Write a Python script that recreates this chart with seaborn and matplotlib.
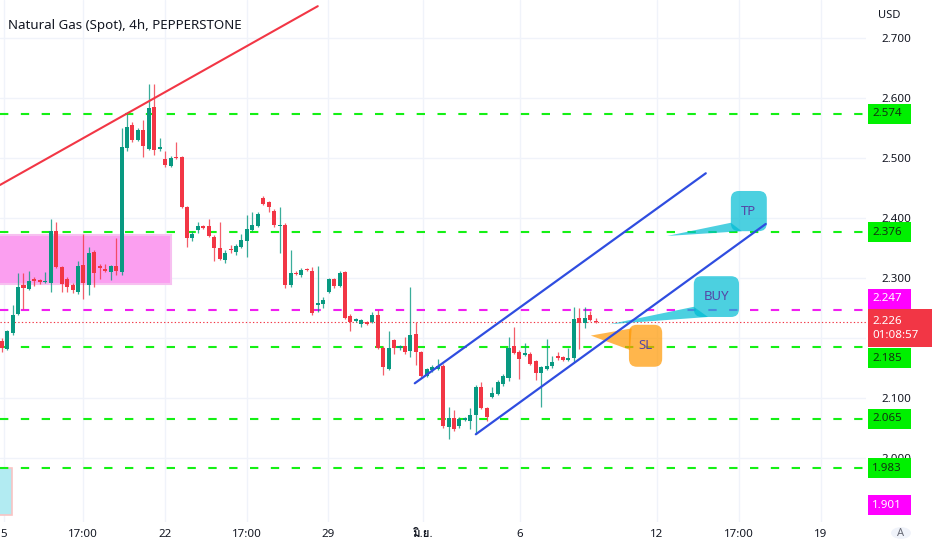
import matplotlib
matplotlib.use("Agg")
import matplotlib.pyplot as plt
import matplotlib.transforms as mtransforms
from matplotlib.patches import Rectangle, FancyBboxPatch, Polygon, Circle
import matplotlib.font_manager as fm
from matplotlib.ft2font import FT2Font
import numpy as np
import seaborn as sns

# ---------------- data ----------------
opens = [2.195, 2.182, 2.208, 2.240, 2.288, 2.282, 2.298, 2.296, 2.293, 2.292,
         2.378, 2.318, 2.298, 2.288, 2.277, 2.322, 2.288, 2.343, 2.320, 2.315,
         2.310, 2.320, 2.310, 2.516, 2.555, 2.530, 2.547, 2.515, 2.585, 2.515,
         2.498, 2.487, 2.502, 2.502, 2.418, 2.366, 2.380, 2.387, 2.386, 2.369,
         2.350, 2.330, 2.349, 2.343, 2.352, 2.362, 2.380, 2.387, 2.433, 2.426,
         2.412, 2.386, 2.389, 2.288, 2.309, 2.305, 2.315, 2.312, 2.255, 2.257,
         2.277, 2.298, 2.287, 2.310, 2.236, 2.228, 2.224, 2.227, 2.227, 2.239,
         2.184, 2.149, 2.196, 2.183, 2.186, 2.178, 2.207, 2.176, 2.137, 2.146,
         2.148, 2.153, 2.052, 2.067, 2.053, 2.063, 2.062, 2.072, 2.119, 2.083,
         2.102, 2.107, 2.123, 2.133, 2.187, 2.177, 2.172, 2.174, 2.161, 2.142,
         2.148, 2.153, 2.170, 2.168, 2.163, 2.166, 2.234, 2.225, 2.239, 2.228]
highs = [2.200, 2.213, 2.255, 2.308, 2.308, 2.312, 2.302, 2.298, 2.310, 2.398,
         2.393, 2.320, 2.302, 2.292, 2.328, 2.373, 2.352, 2.346, 2.323, 2.323,
         2.322, 2.367, 2.550, 2.574, 2.560, 2.550, 2.564, 2.623, 2.624, 2.534,
         2.511, 2.503, 2.526, 2.504, 2.420, 2.378, 2.394, 2.389, 2.398, 2.372,
         2.394, 2.346, 2.355, 2.357, 2.374, 2.405, 2.410, 2.410, 2.437, 2.428,
         2.415, 2.419, 2.392, 2.347, 2.312, 2.316, 2.316, 2.318, 2.320, 2.268,
         2.300, 2.300, 2.312, 2.312, 2.240, 2.234, 2.232, 2.229, 2.244, 2.246,
         2.186, 2.212, 2.198, 2.188, 2.201, 2.285, 2.227, 2.178, 2.150, 2.155,
         2.165, 2.156, 2.085, 2.080, 2.068, 2.069, 2.083, 2.122, 2.127, 2.085,
         2.118, 2.130, 2.140, 2.201, 2.219, 2.180, 2.192, 2.177, 2.163, 2.153,
         2.198, 2.170, 2.177, 2.170, 2.183, 2.252, 2.250, 2.252, 2.245, 2.234]
lows = [2.177, 2.180, 2.205, 2.238, 2.248, 2.280, 2.287, 2.290, 2.292, 2.277,
        2.316, 2.276, 2.276, 2.275, 2.273, 2.265, 2.272, 2.285, 2.298, 2.310,
        2.297, 2.305, 2.305, 2.512, 2.527, 2.528, 2.502, 2.513, 2.505, 2.512,
        2.485, 2.485, 2.498, 2.416, 2.352, 2.362, 2.375, 2.382, 2.368, 2.328,
        2.330, 2.325, 2.341, 2.338, 2.350, 2.335, 2.378, 2.385, 2.421, 2.410,
        2.385, 2.341, 2.283, 2.285, 2.305, 2.302, 2.312, 2.238, 2.244, 2.250,
        2.275, 2.283, 2.285, 2.232, 2.212, 2.226, 2.218, 2.221, 2.225, 2.182,
        2.138, 2.147, 2.173, 2.180, 2.174, 2.169, 2.155, 2.135, 2.135, 2.144,
        2.146, 2.050, 2.031, 2.045, 2.050, 2.061, 2.048, 2.040, 2.082, 2.062,
        2.100, 2.105, 2.120, 2.128, 2.173, 2.131, 2.170, 2.155, 2.130, 2.085,
        2.146, 2.150, 2.164, 2.161, 2.161, 2.160, 2.182, 2.216, 2.228, 2.225]
closes = [2.183, 2.211, 2.238, 2.285, 2.283, 2.295, 2.295, 2.293, 2.295, 2.378,
          2.319, 2.290, 2.285, 2.280, 2.320, 2.291, 2.342, 2.308, 2.317, 2.312,
          2.320, 2.311, 2.518, 2.552, 2.530, 2.547, 2.520, 2.584, 2.514, 2.519,
          2.488, 2.500, 2.500, 2.418, 2.367, 2.374, 2.386, 2.384, 2.370, 2.350,
          2.332, 2.342, 2.347, 2.353, 2.363, 2.381, 2.388, 2.407, 2.423, 2.419,
          2.388, 2.388, 2.288, 2.308, 2.307, 2.313, 2.313, 2.242, 2.258, 2.263,
          2.298, 2.286, 2.308, 2.234, 2.226, 2.232, 2.230, 2.223, 2.239, 2.184,
          2.152, 2.184, 2.184, 2.186, 2.176, 2.205, 2.176, 2.137, 2.148, 2.151,
          2.154, 2.053, 2.067, 2.049, 2.065, 2.067, 2.072, 2.119, 2.084, 2.068,
          2.108, 2.127, 2.137, 2.184, 2.175, 2.165, 2.175, 2.157, 2.142, 2.151,
          2.154, 2.160, 2.166, 2.163, 2.167, 2.232, 2.225, 2.234, 2.230, 2.226]

x_tick_pos = [0.42, 14.86, 29.96, 45.06, 59.93, 77.25, 95.1, 120.2, 135.3, 150.3]
x_tick_labels = ["5", "17:00", "22", "17:00", "29", "มิ.ย.", "6", "12", "17:00", "19"]
price_ticks = [2.0, 2.1, 2.2, 2.3, 2.4, 2.5, 2.6, 2.7]
price_tick_labels = ["2.000", "2.100", "", "2.300", "2.400", "2.500", "2.600", "2.700"]

green_levels = [2.574, 2.376, 2.185, 2.065, 1.983]
magenta_levels = [2.247]
magenta_extra_label = 1.901
last_price = 2.226
countdown = "01:08:57"

# trend lines (bar index, price)
red_line_x, red_line_y = [-0.31, 58.0], [2.455, 2.753]
blue_up_x, blue_up_y = [75.8, 129.2], [2.1245, 2.4745]
blue_low_x, blue_low_y = [87.0, 140.2], [2.0395, 2.390]

# zones (x0, x1, y0, y1)
pink_zone = (-1.0, 31.0, 2.290, 2.372)
cyan_zone = (-1.0, 1.9, 1.905, 1.983)

# callouts: box (x0, x1, y0, y1), tail tip, tail base points
callouts = [
    ("TP", (133.8, 140.4, 2.378, 2.445), (122.1, 2.370), [(133.8, 2.392), (135.8, 2.378)], "#00bcd4"),
    ("BUY", (127.0, 135.3, 2.235, 2.303), (111.6, 2.223), [(127.0, 2.252), (129.6, 2.235)], "#00bcd4"),
    ("SL", (115.1, 121.2, 2.152, 2.222), (108.1, 2.204), [(115.6, 2.216), (115.3, 2.180)], "#ff9800"),
]

# ---------------- fonts ----------------
def find_family(chars):
    for fe in fm.fontManager.ttflist:
        try:
            cmap = FT2Font(fe.fname).get_charmap()
        except Exception:
            continue
        if all(ord(c) in cmap for c in chars):
            return fe.name
    return None

sns.set_theme(style="white")
thai_family = find_family("มิย")
fams = ["Noto Sans"] + ([thai_family] if thai_family else []) + ["DejaVu Sans"]
plt.rcParams["font.family"] = fams

TXT = "#131722"
UP, DOWN = "#089981", "#f23645"
GREEN_L, MAG_L = "#14f014", "#f01ef0"

fig = plt.figure(figsize=(9.32, 5.5), dpi=100)
fig.patch.set_facecolor("white")
ax = fig.add_axes([0, 28 / 550, 866 / 932, 522 / 550])
ax.set_facecolor("white")
ax.set_xlim(-0.31, 158.6)
ax.set_ylim(1.8933, 2.7633)
for s in ax.spines.values():
    s.set_visible(False)

# grid & ticks
ax.set_xticks(x_tick_pos)
ax.set_xticklabels(x_tick_labels)
ax.set_yticks(price_ticks)
ax.set_yticklabels(price_tick_labels)
ax.yaxis.tick_right()
ax.tick_params(axis="both", length=0, colors=TXT, labelsize=8.3)
ax.tick_params(axis="y", pad=11)
ax.tick_params(axis="x", pad=5)
ax.grid(True, color="#f0f3fa", lw=1)
ax.set_axisbelow(True)
for lbl in ax.get_xticklabels():
    if lbl.get_text() == "มิ.ย.":
        lbl.set_fontweight("bold")

# zones
ax.add_patch(Rectangle((pink_zone[0], pink_zone[2]), pink_zone[1] - pink_zone[0],
                       pink_zone[3] - pink_zone[2], fc="#fb9ff0", ec="#f7c0f0", lw=1.5, zorder=1))
ax.add_patch(Rectangle((cyan_zone[0], cyan_zone[2]), cyan_zone[1] - cyan_zone[0],
                       cyan_zone[3] - cyan_zone[2], fc="#b2ebf2", ec="#f8c4c4", lw=1.2, zorder=1))

# level lines
for lv in green_levels:
    ax.axhline(lv, color=GREEN_L, lw=1.5, ls=(0, (4.0, 6.0)), zorder=3)
for lv in magenta_levels:
    ax.axhline(lv, color=MAG_L, lw=1.5, ls=(0, (4.0, 6.0)), zorder=3)
ax.axhline(last_price, color=DOWN, lw=0.8, ls=(0, (1.2, 2.0)), zorder=3)

# candles
idx = np.arange(len(opens))
o, h, l, c = map(np.array, (opens, highs, lows, closes))
cols = np.where(c >= o, UP, DOWN)
ax.vlines(idx, l, h, colors=cols, lw=0.9, alpha=0.8, zorder=4)
body = np.maximum(np.abs(c - o), 0.0016)
ax.bar(idx, body, bottom=np.minimum(o, c), width=0.74, color=cols, lw=0, zorder=5)

# trend lines
sns.lineplot(x=red_line_x, y=red_line_y, ax=ax, color="#f23645", lw=1.5, zorder=6)
sns.lineplot(x=blue_up_x, y=blue_up_y, ax=ax, color="#2f4de0", lw=1.6, zorder=6)
sns.lineplot(x=blue_low_x, y=blue_low_y, ax=ax, color="#2f4de0", lw=1.6, zorder=7)

# callouts
px_x = ax.transData.transform((1, 0))[0] - ax.transData.transform((0, 0))[0]
px_y = ax.transData.transform((0, 1))[1] - ax.transData.transform((0, 0))[1]
aspect = px_x / px_y
for txt, (x0, x1, y0, y1), tip, base, fc in callouts:
    ax.add_patch(FancyBboxPatch((x0, y0), x1 - x0, y1 - y0,
                                boxstyle=f"round,pad=0,rounding_size={8 / px_x}",
                                mutation_aspect=aspect, fc=fc, ec="none", alpha=0.7, zorder=6.5))
    ax.add_patch(Polygon([tip] + base, closed=True, fc=fc, ec="none", alpha=0.7, zorder=6.5))
    ax.text((x0 + x1) / 2, (y0 + y1) / 2, txt, ha="center", va="center",
            fontsize=9.5, color="#5546a6", zorder=7)

ax.set_xlabel("")
ax.set_ylabel("")

# price-scale labels
axw = ax.bbox.width
def level_label(price, text, fc, tc, shift=0, w=43, hgt=20, weight="normal"):
    tr = mtransforms.offset_copy(ax.get_yaxis_transform(), fig=fig, x=0, y=shift, units="dots")
    x0 = 868 / axw
    ax.add_patch(Rectangle((x0, price - hgt / 2 / px_y), w / axw, hgt / px_y, transform=tr,
                           fc=fc, ec="none", clip_on=False, zorder=9))
    ax.text(x0 + 4 / axw, price, text, transform=tr, ha="left", va="center",
            fontsize=8.3, color=tc, clip_on=False, zorder=10, linespacing=1.35, fontweight=weight)

for lv in green_levels:
    sh = -11.5 if lv == 2.185 else 0
    level_label(lv, f"{lv:.3f}", "#00f000", "#123312", shift=sh)
level_label(magenta_levels[0], f"{magenta_levels[0]:.3f}", "#ff00ff", "white", shift=11)
level_label(magenta_extra_label, f"{magenta_extra_label:.3f}", "#ff00ff", "white", shift=12)
level_label(last_price, f"{last_price:.3f}\n{countdown}", "#f23645", "white", shift=-6, w=66, hgt=38)

# header texts
fig.text(8 / 932, 1 - 25 / 550, "Natural Gas (Spot), 4h, PEPPERSTONE", fontsize=9.6,
         color=TXT, ha="left", va="center")
fig.text(878 / 932, 1 - 16 / 550, "USD", fontsize=8, color=TXT, ha="left", va="center")
fig.patches.append(Circle((901 / 932, 1 - 533 / 550), 0.0107,
                          transform=fig.transFigure, fc="#f0f3fa", ec="none",
                          figure=fig))
fig.text(901 / 932, 1 - 533 / 550, "A", fontsize=8, color="#6a6d78", ha="center", va="center")

fig.savefig("out.png", dpi=100, facecolor="white")
